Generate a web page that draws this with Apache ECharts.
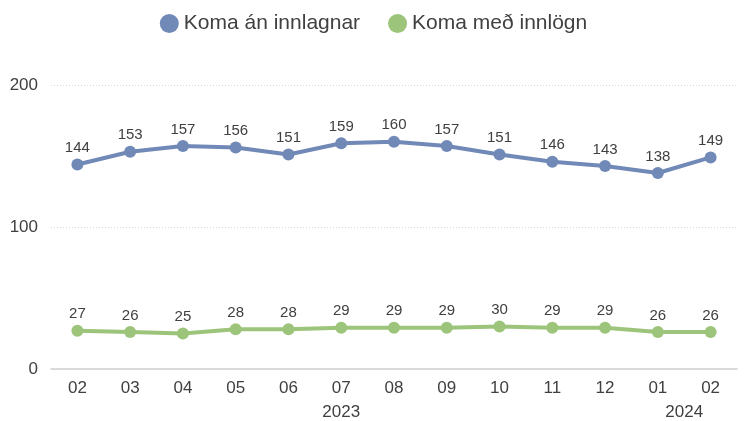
<!DOCTYPE html>
<html>
<head>
<meta charset="utf-8">
<script src="https://cdn.jsdelivr.net/npm/echarts@6/dist/echarts.min.js"></script>
<style>
  html, body { margin: 0; padding: 0; background: #fff; }
  #chart-container { width: 747px; height: 421px; }
</style>
</head>
<body>
<div id="chart-container"></div>
<script>
// data
const months = ["02", "03", "04", "05", "06", "07", "08", "09", "10", "11", "12", "01", "02"];
const anInnlagnar = [144, 153, 157, 156, 151, 159, 160, 157, 151, 146, 143, 138, 149];
const medInnlogn = [27, 26, 25, 28, 28, 29, 29, 29, 30, 29, 29, 26, 26];
const yearLabels = [
  { pos: 5, text: "2023" },
  { pos: 11.5, text: "2024" },
];

const FONT = "Liberation Sans";
const TEXT = "#404040";

const dom = document.getElementById("chart-container");
const chart = echarts.init(dom, null, { renderer: "canvas" });

const option = {
  animation: false,
  textStyle: { fontFamily: FONT, color: TEXT },
  legend: {
    top: 8,
    left: "center",
    itemWidth: 19,
    itemHeight: 19,
    itemGap: 28,
    icon: "circle",
    textStyle: { fontSize: 21, color: TEXT, fontFamily: FONT },
    data: ["Koma án innlagnar", "Koma með innlögn"],
  },
  grid: { left: 51, right: 10, top: 85, bottom: 52, containLabel: false },
  xAxis: [
    {
      type: "category",
      data: months,
      axisLine: { lineStyle: { color: "#d0d0d0", width: 1.5 } },
      axisTick: { show: false },
      axisLabel: { fontSize: 17, color: TEXT, margin: 11 },
    },
    {
      // year row under the months
      type: "value",
      position: "bottom",
      min: -0.5,
      max: 12.5,
      interval: 0.5,
      axisLine: { show: false },
      axisTick: { show: false },
      splitLine: { show: false },
      axisLabel: {
        fontSize: 17,
        color: TEXT,
        margin: 35,
        showMinLabel: true,
        showMaxLabel: true,
        formatter: (v) => {
          const y = yearLabels.find((d) => Math.abs(d.pos - v) < 1e-6);
          return y ? y.text : "";
        },
      },
    },
  ],
  yAxis: {
    type: "value",
    min: 0,
    max: 200,
    interval: 100,
    axisLine: { show: false },
    axisTick: { show: false },
    axisLabel: { fontSize: 17, color: TEXT, margin: 13 },
    splitLine: { lineStyle: { color: "#d9d9d9", type: [1, 2] } },
  },
  series: [
    {
      name: "Koma án innlagnar",
      type: "line",
      data: anInnlagnar,
      symbol: "circle",
      symbolSize: 12,
      itemStyle: { color: "#7189b7" },
      lineStyle: { width: 4, color: "#7189b7" },
      label: { show: true, position: "top", distance: 3, fontSize: 15, color: TEXT },
    },
    {
      name: "Koma með innlögn",
      type: "line",
      data: medInnlogn,
      symbol: "circle",
      symbolSize: 12,
      itemStyle: { color: "#9cc57b" },
      lineStyle: { width: 4, color: "#9cc57b" },
      label: { show: true, position: "top", distance: 3, fontSize: 15, color: TEXT },
    },
  ],
};

chart.setOption(option);
</script>
</body>
</html>
